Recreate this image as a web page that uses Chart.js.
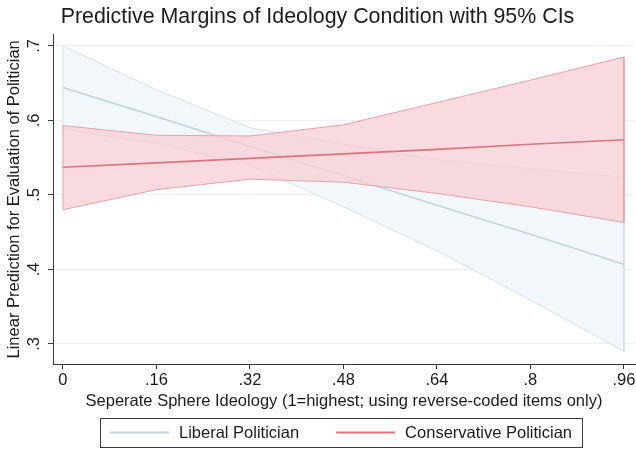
<!DOCTYPE html>
<html>
<head>
<meta charset="utf-8">
<script src="https://cdn.jsdelivr.net/npm/chart.js@4.4.1/dist/chart.umd.min.js"></script>
<style>
  html,body{margin:0;padding:0;background:#fff;}
  #wrap{width:636px;height:449px;}
</style>
</head>
<body>
<div id="wrap"><canvas id="c"></canvas></div>
<script>
// valores de x (at) y márgenes predichos con IC 95%
const xVals   = [0, .16, .32, .48, .64, .8, .96];
const xTicks  = [0, .16, .32, .48, .64, .8, .96];
const yTicks  = [.3, .4, .5, .6, .7];

const libEst  = [0.644, 0.605, 0.565, 0.526, 0.486, 0.447, 0.407];
const libHi   = [0.700, 0.641, 0.590, 0.568, 0.547, 0.535, 0.524];
const libLo   = [0.588, 0.569, 0.540, 0.484, 0.425, 0.359, 0.290];

const conEst  = [0.537, 0.543, 0.549, 0.555, 0.561, 0.568, 0.574];
const conHi   = [0.593, 0.580, 0.579, 0.594, 0.624, 0.654, 0.685];
const conLo   = [0.480, 0.507, 0.521, 0.517, 0.502, 0.484, 0.463];

const seriesNames = ['Liberal Politician', 'Conservative Politician'];

const FONT = '"Liberation Sans", Arial, Helvetica, sans-serif';
const TXT = '#1c1c1c';
const AX = '#3a3a3a';

const libFill = '#f2f7fb', libEdge = '#d6e0e8', libLine = '#c6d3dd';
const conFill = 'rgba(247,205,211,0.75)', conEdge = '#e9a1a9', conLine = '#da7480';

// polígono cerrado: límite superior ida, inferior vuelta
function band(hi, lo){
  const pts = xVals.map((x,i)=>({x, y:hi[i]}));
  for(let i=xVals.length-1;i>=0;i--) pts.push({x:xVals[i], y:lo[i]});
  pts.push({x:xVals[0], y:hi[0]});
  return pts;
}
const line = arr => xVals.map((x,i)=>({x, y:arr[i]}));

const fmt = v => v===0 ? '0' : String(+v.toFixed(2)).replace(/^0\./,'.');

// leyenda con recuadro al estilo Stata
const boxLegend = {
  id:'boxLegend',
  afterDraw(chart){
    const ctx = chart.ctx, ca = chart.chartArea;
    ctx.save();
    ctx.font = '16.5px ' + FONT;
    const seg = 59, gapT = 10, gapItem = 37, padL = 10, padR = 10;
    const w0 = ctx.measureText(seriesNames[0]).width;
    const w1 = ctx.measureText(seriesNames[1]).width;
    const total = padL + seg + gapT + w0 + gapItem + seg + gapT + w1 + padR;
    const left = (ca.left + ca.right)/2 - total/2 - 3;
    const top = 418, h = 29, cy = top + h/2;
    ctx.strokeStyle = AX; ctx.lineWidth = 1;
    ctx.strokeRect(Math.round(left)+0.5, top+0.5, Math.round(total), h);
    let x = left + padL;
    const cols = [libLine, conLine];
    [w0,w1].forEach((w,i)=>{
      ctx.strokeStyle = cols[i]; ctx.lineWidth = 2;
      ctx.beginPath(); ctx.moveTo(x, cy); ctx.lineTo(x+seg, cy); ctx.stroke();
      x += seg + gapT;
      ctx.fillStyle = TXT; ctx.textBaseline = 'middle'; ctx.textAlign = 'left';
      ctx.fillText(seriesNames[i], x, cy+1);
      x += w + gapItem;
    });
    ctx.restore();
  }
};

new Chart(document.getElementById('c'), {
  type:'line',
  data:{datasets:[
    {label:'lib_ci', data:band(libHi, libLo), fill:'shape', backgroundColor:libFill, borderColor:libEdge, borderWidth:1, pointRadius:0, tension:0, order:3},
    {label:seriesNames[0], data:line(libEst), fill:false, borderColor:libLine, borderWidth:1.6, pointRadius:0, tension:0, order:2},
    {label:'con_ci', data:band(conHi, conLo), fill:'shape', backgroundColor:conFill, borderColor:conEdge, borderWidth:1, pointRadius:0, tension:0, order:1},
    {label:seriesNames[1], data:line(conEst), fill:false, borderColor:conLine, borderWidth:1.6, pointRadius:0, tension:0, order:0}
  ]},
  options:{
    responsive:true, maintainAspectRatio:false, animation:false,
    layout:{padding:{left:0, right:1, top:0, bottom:38}},
    plugins:{
      legend:{display:false},
      tooltip:{enabled:false},
      title:{display:true, text:'Predictive Margins of Ideology Condition with 95% CIs',
        color:TXT, font:{family:FONT, size:21.4, weight:'normal'}, padding:{top:4, bottom:5}}
    },
    scales:{
      x:{type:'linear', min:-0.017, max:0.979,
        afterBuildTicks:s=>{ s.ticks = xTicks.map(v=>({value:v})); },
        afterFit:s=>{ s.height = 47; s.paddingLeft = 0; s.paddingRight = 0; },
        grid:{display:true, drawOnChartArea:false, drawTicks:true, tickLength:5, tickColor:AX},
        border:{display:true, color:AX, width:1},
        ticks:{color:TXT, padding:2, maxRotation:0, autoSkip:false, font:{family:FONT, size:16.5}, callback:v=>fmt(v)},
        title:{display:true, text:'Seperate Sphere Ideology (1=highest; using reverse-coded items only)',
          color:TXT, font:{family:FONT, size:16.5}, padding:{top:0, bottom:0}}
      },
      y:{type:'linear', min:0.273, max:0.715,
        afterBuildTicks:s=>{ s.ticks = yTicks.map(v=>({value:v})); },
        afterFit:s=>{ s.width = 53; s.paddingTop = 0; s.paddingBottom = 0; },
        grid:{display:true, color:'#f0f0f0', drawTicks:true, tickLength:5, tickColor:AX},
        border:{display:true, color:AX, width:1},
        ticks:{color:TXT, padding:7, minRotation:90, maxRotation:90, crossAlign:'center', autoSkip:false,
          font:{family:FONT, size:16.5}, callback:v=>fmt(v)},
        title:{display:true, text:'Linear Prediction for Evaluation of Politician',
          color:TXT, font:{family:FONT, size:16.5}, padding:{top:5, bottom:0}}
      }
    }
  },
  plugins:[boxLegend]
});
</script>
</body>
</html>
